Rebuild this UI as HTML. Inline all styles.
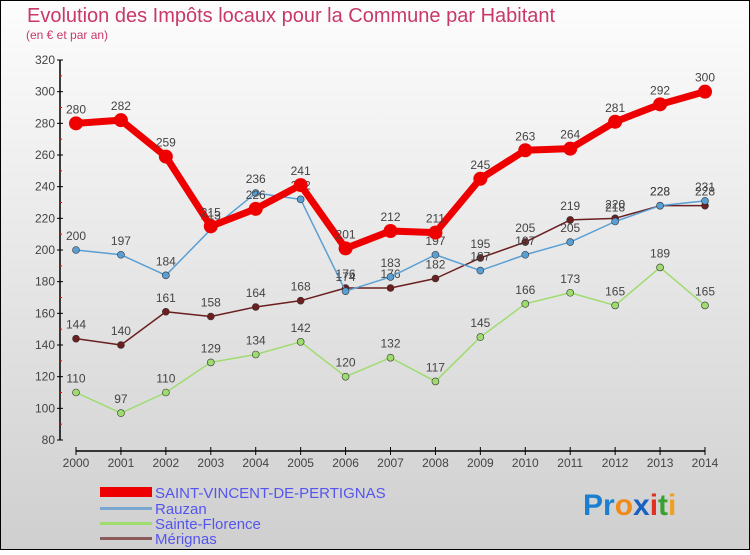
<!DOCTYPE html>
<html><head><meta charset="utf-8"><style>
body{margin:0;}
svg text{font-family:"Liberation Sans",sans-serif;}
</style></head><body>
<svg width="750" height="550" viewBox="0 0 750 550" xmlns="http://www.w3.org/2000/svg">
<defs><linearGradient id="bg" x1="0" y1="0" x2="0" y2="1"><stop offset="0" stop-color="#fdfdfd"/><stop offset="1" stop-color="#cfcfcf"/></linearGradient></defs>
<rect x="0.5" y="0.5" width="749" height="549" fill="url(#bg)" stroke="#000"/>
<text x="27" y="22" font-size="20" fill="#c8386a">Evolution des Impôts locaux pour la Commune par Habitant</text>
<text x="26" y="39" font-size="12" fill="#c8386a">(en € et par an)</text>
<g id="axes"></g>
<g id="series"></g>
<g id="legend">
<rect x="100" y="487" width="52" height="10" fill="#e00"/>
<text x="155" y="498" font-size="15" fill="#5555ee">SAINT-VINCENT-DE-PERTIGNAS</text>
<rect x="100" y="507" width="52" height="3" fill="#7aa7cf"/>
<text x="155" y="514" font-size="15" fill="#5555ee">Rauzan</text>
<rect x="100" y="522" width="52" height="3" fill="#9edc6e"/>
<text x="155" y="529" font-size="15" fill="#5555ee">Sainte-Florence</text>
<rect x="100" y="537" width="52" height="3" fill="#8b5a5a"/>
<text x="155" y="544" font-size="15" fill="#5555ee">Mérignas</text>
</g>
<g font-size="30" font-weight="bold">
<text x="583" y="515"><tspan fill="#1a7fd0">Pr</tspan><tspan fill="#f08a1a">o</tspan><tspan fill="#1a60c0">x</tspan><tspan fill="#e03020">i</tspan><tspan fill="#3aa030">t</tspan><tspan fill="#f0a020">i</tspan></text>
</g>
</svg>
<script>
const years=[2000,2001,2002,2003,2004,2005,2006,2007,2008,2009,2010,2011,2012,2013,2014];
const yTicks=[80,100,120,140,160,180,200,220,240,260,280,300,320];
const svpValues=[280,282,259,215,226,241,201,212,211,245,263,264,281,292,300];
const rauzanValues=[200,197,184,213,236,232,174,183,197,187,197,205,218,228,231];
const floValues=[110,97,110,129,134,142,120,132,117,145,166,173,165,189,165];
const merValues=[144,140,161,158,164,168,176,176,182,195,205,219,220,228,228];
const NS="http://www.w3.org/2000/svg";
function xs(i){return 76+i*(705-76)/(years.length-1);}
function ys(v){return 440-(v-80)*(380/240);}
function mk(t,a,p){const e=document.createElementNS(NS,t);for(const k in a)e.setAttribute(k,a[k]);(p||document.getElementById('series')).appendChild(e);return e;}
const ax=document.getElementById('axes');
const ya=mk('line',{x1:60,y1:60,x2:60,y2:440,stroke:'#000','stroke-width':1.5},ax);


yTicks.forEach((v,i)=>{
 mk('line',{x1:57,y1:ys(v),x2:63,y2:ys(v),stroke:'#000'},ax);
 if(i<yTicks.length-1)mk('line',{x1:59,y1:ys(v+10),x2:62,y2:ys(v+10),stroke:'#e00'},ax);
 const t=mk('text',{x:55,y:ys(v)+4,'text-anchor':'end','font-size':12,fill:'#444'},ax);
 t.textContent=v;
 
 
});
const xa=mk('line',{x1:76,y1:451,x2:705,y2:451,stroke:'#000','stroke-width':1.5},ax);


years.forEach((y,i)=>{
 mk('line',{x1:xs(i),y1:447,x2:xs(i),y2:455,stroke:'#000'},ax);
 const t=mk('text',{x:xs(i),y:467,'text-anchor':'middle','font-size':12,fill:'#444'},ax);
 t.textContent=y;
 
 
});
function series(vals,color,w,r,name){
 const g=mk('g',{});
 
 
 const pl=mk('polyline',{points:vals.map((v,i)=>xs(i)+','+ys(v)).join(' '),fill:'none',stroke:color,'stroke-width':w,'stroke-linejoin':'round'},g);
 
 
 vals.forEach((v,i)=>{
  const c=mk('circle',{cx:xs(i),cy:ys(v),r:r,fill:color,stroke:'#333','stroke-width':r>5?0:0.6},g);
  
  
  const t=mk('text',{x:xs(i),y:ys(v)-10,'text-anchor':'middle','font-size':12,fill:'#444'},g);
  t.textContent=v;
  
  
 });
}
series(floValues,'#9edc6e',1.5,3.5,'sainte-florence');
series(merValues,'#6b1f1f',1.5,3.5,'merignas');
series(rauzanValues,'#5a9fd4',1.5,3.5,'rauzan');
series(svpValues,'#e00',7,7,'saint-vincent');
</script>
</body></html>
